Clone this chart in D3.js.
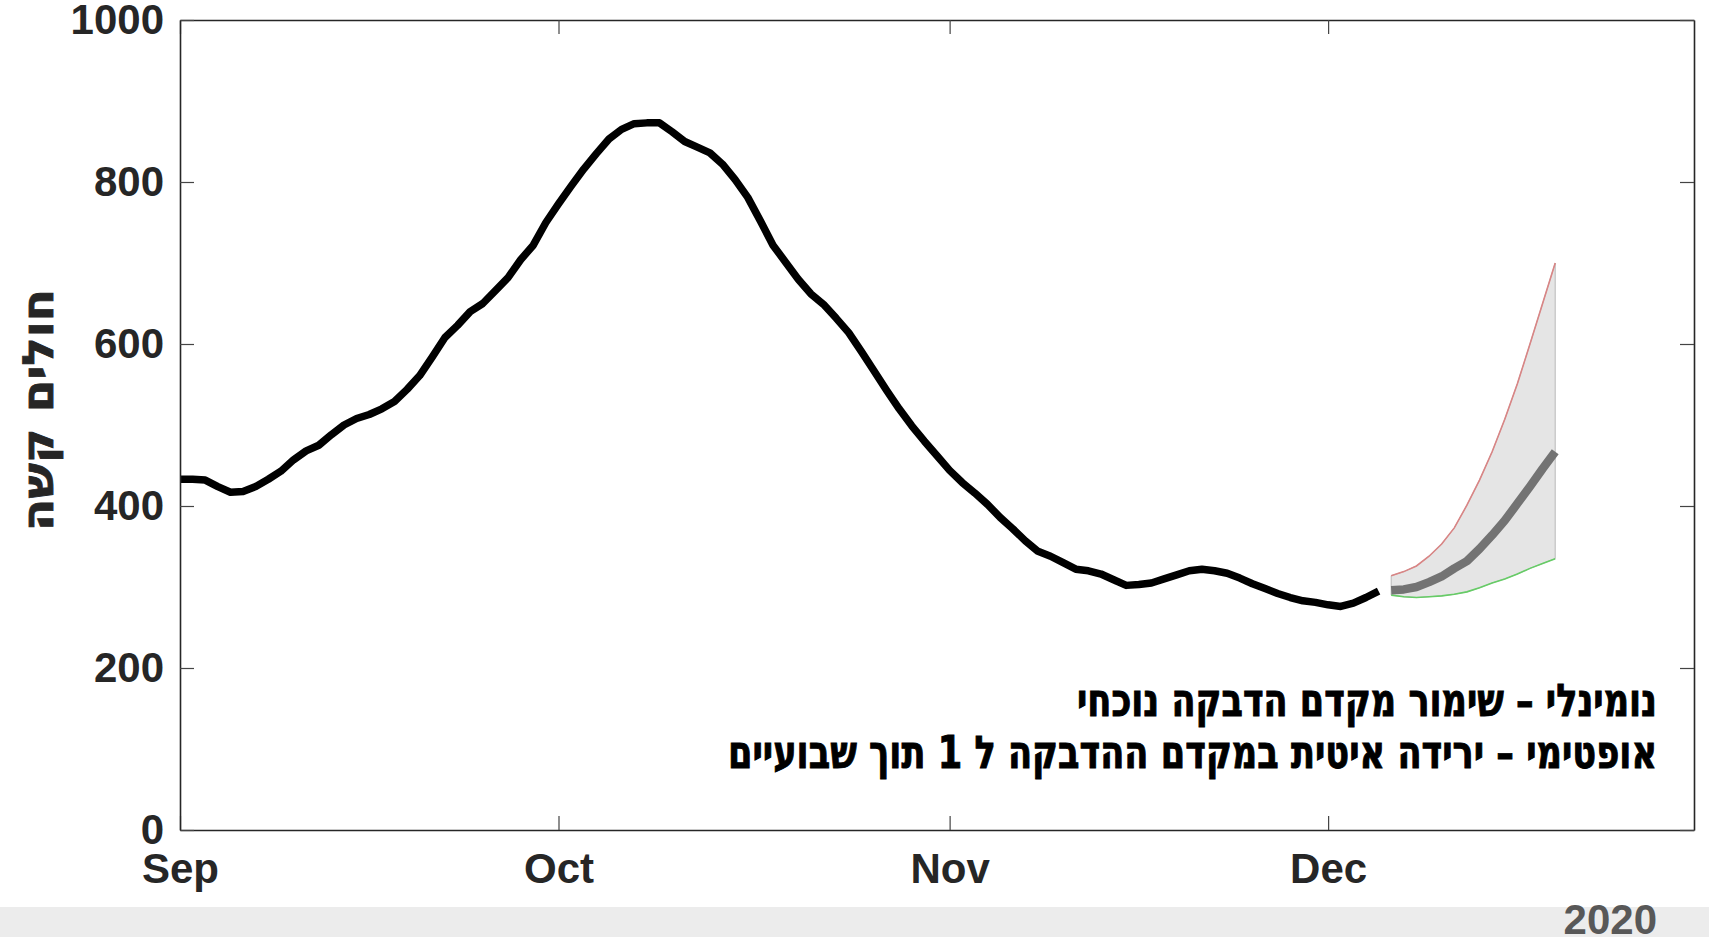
<!DOCTYPE html>
<html>
<head>
<meta charset="utf-8">
<script src="https://cdn.jsdelivr.net/npm/d3@7"></script>
<style>
  html, body { margin: 0; padding: 0; background: #ffffff; overflow: hidden; }
  svg { display: block; }
</style>
</head>
<body>
<svg id="chart" width="1709" height="937"></svg>
<script>
// ---------- DATA ----------
const startDate = "2020-09-01";
const observedValues = [
  433, 433, 432, 424, 417, 418, 424, 433, 443, 457,
  468, 475, 488, 500, 508, 513, 520, 529, 544, 561,
  584, 608, 623, 640, 650, 666, 682, 704, 722, 750,
  773, 795, 816, 835, 853, 865, 872, 873, 873, 862,
  850, 843, 836, 822, 803, 781, 752, 722, 701, 680,
  662, 649, 632, 614, 591, 567, 543, 520, 499, 480,
  462, 444, 429, 416, 402, 386, 372, 357, 344, 338,
  330, 322, 320, 316, 309, 302, 303, 305, 310, 315,
  320, 322, 320, 317, 311, 304, 298, 292, 287, 283,
  281, 278, 276, 280, 287, 295
];
const projectionStartDate = "2020-12-06";
const projectionUpper   = [314, 319, 326, 338, 353, 373, 401, 432, 467, 507, 551, 600, 650, 700];
const projectionNominal = [296, 297, 300, 306, 313, 323, 332, 347, 364, 382, 403, 424, 446, 467];
const projectionLower   = [290, 288, 287, 288, 289, 291, 294, 299, 305, 310, 316, 323, 329, 335];
const xDomain = ["2020-09-01", "2020-12-30"];
const xTickDates = ["2020-09-01", "2020-10-01", "2020-11-01", "2020-12-01"];
const xTickLabels = ["Sep", "Oct", "Nov", "Dec"];
const yTicks = [0, 200, 400, 600, 800, 1000];
const yLabel = "חולים קשה";
const yearLabel = "2020";
const noteLines = [
  "נומינלי – שימור מקדם הדבקה נוכחי",
  "אופטימי – ירידה איטית במקדם ההדבקה ל 1 תוך שבועיים"
];

// ---------- LAYOUT ----------
const W = 1709, H = 937;
const m = { left: 180, right: 1694, top: 20, bottom: 830 };
const axisColor = "#262626";
const fontFam = "'Liberation Sans', Arial, Helvetica, sans-serif";
const hebFam = "'DejaVu Sans Condensed', 'DejaVu Sans', sans-serif";

const parse = d3.utcParse("%Y-%m-%d");
const dayMs = 86400000;
const addDays = (d, n) => new Date(d.getTime() + n * dayMs);

const x = d3.scaleUtc().domain(xDomain.map(parse)).range([m.left, m.right]);
const y = d3.scaleLinear().domain([0, 1000]).range([m.bottom, m.top]);

const svg = d3.select("#chart");

// bottom gray band
svg.append("rect").attr("x", 0).attr("y", 907).attr("width", W).attr("height", H - 907).attr("fill", "#ececec");

const obs = observedValues.map((v, i) => ({ date: addDays(parse(startDate), i), v }));
const p0 = parse(projectionStartDate);
const proj = projectionNominal.map((v, i) => ({
  date: addDays(p0, i), mid: v, hi: projectionUpper[i], lo: projectionLower[i]
}));

// projection band
const bandPts = proj.map(d => [x(d.date), y(d.hi)]).concat(proj.slice().reverse().map(d => [x(d.date), y(d.lo)]));
svg.append("path")
  .attr("d", d3.line()(bandPts) + "Z")
  .attr("fill", "#e5e5e5")
  .attr("stroke", "#b8b8b8")
  .attr("stroke-width", 1);

svg.append("path").datum(proj)
  .attr("d", d3.line().x(d => x(d.date)).y(d => y(d.hi)))
  .attr("fill", "none").attr("stroke", "#d98585").attr("stroke-width", 1.6);
svg.append("path").datum(proj)
  .attr("d", d3.line().x(d => x(d.date)).y(d => y(d.lo)))
  .attr("fill", "none").attr("stroke", "#66cc66").attr("stroke-width", 1.6);
svg.append("path").datum(proj)
  .attr("d", d3.line().x(d => x(d.date)).y(d => y(d.mid)))
  .attr("fill", "none").attr("stroke", "#737373").attr("stroke-width", 8.5)
  .attr("stroke-linejoin", "round");

svg.append("path").datum(obs)
  .attr("d", d3.line().x(d => x(d.date)).y(d => y(d.v)))
  .attr("fill", "none").attr("stroke", "#000").attr("stroke-width", 7.5)
  .attr("stroke-linejoin", "round");

// ---------- AXES ----------
const tickLen = 14;
const xTicks = xTickDates.map(parse);

const gx = svg.append("g").attr("transform", `translate(0,${m.bottom})`)
  .call(d3.axisBottom(x).tickValues(xTicks).tickFormat((d, i) => xTickLabels[i])
    .tickSizeInner(-tickLen).tickSizeOuter(0).tickPadding(23));
const gxt = svg.append("g").attr("transform", `translate(0,${m.top})`)
  .call(d3.axisTop(x).tickValues(xTicks).tickFormat("").tickSizeInner(-tickLen).tickSizeOuter(0));
const gy = svg.append("g").attr("transform", `translate(${m.left},0)`)
  .call(d3.axisLeft(y).tickValues(yTicks).tickFormat(d3.format("d"))
    .tickSizeInner(-tickLen).tickSizeOuter(0).tickPadding(16));
const gyr = svg.append("g").attr("transform", `translate(${m.right},0)`)
  .call(d3.axisRight(y).tickValues(yTicks).tickFormat("").tickSizeInner(-tickLen).tickSizeOuter(0));

[gx, gxt, gy, gyr].forEach(g => {
  g.select(".domain").attr("stroke", axisColor).attr("stroke-width", 1.6);
  g.selectAll(".tick line").attr("stroke", "#444").attr("stroke-width", 1.2);
  g.selectAll("text").attr("fill", axisColor).attr("font-family", fontFam)
    .attr("font-weight", "bold").attr("font-size", 42);
});

// y label
svg.append("text")
  .attr("transform", `translate(53,410) rotate(-90)`)
  .attr("text-anchor", "middle")
  .attr("font-family", "'DejaVu Sans', sans-serif").attr("font-weight", "bold").attr("font-size", 43)
  .attr("fill", axisColor).attr("stroke", axisColor).attr("stroke-width", 0.8)
  .attr("textLength", 242).attr("lengthAdjust", "spacingAndGlyphs")
  .text(yLabel);

// notes (right aligned)
const noteBase = [716, 768];
const noteWidths = [580, 929];
noteLines.forEach((t, i) => {
  svg.append("text")
    .attr("x", 1657).attr("y", noteBase[i])
    .attr("text-anchor", "end")
    .attr("font-family", hebFam).attr("font-weight", "bold").attr("font-size", 45)
    .attr("fill", "#000").attr("stroke", "#000").attr("stroke-width", 0.9)
    .attr("textLength", noteWidths[i]).attr("lengthAdjust", "spacingAndGlyphs")
    .text(t);
});

// year label
svg.append("text")
  .attr("x", 1657).attr("y", 934)
  .attr("text-anchor", "end")
  .attr("font-family", fontFam).attr("font-weight", "bold").attr("font-size", 42)
  .attr("fill", "#585858")
  .text(yearLabel);
</script>
</body>
</html>
